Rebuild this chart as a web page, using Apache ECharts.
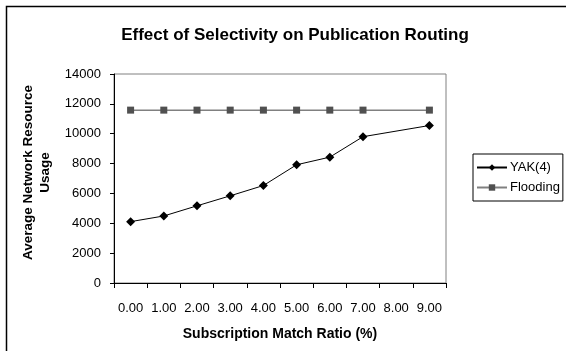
<!DOCTYPE html>
<html>
<head>
<meta charset="utf-8">
<script src="https://cdn.jsdelivr.net/npm/echarts@6/dist/echarts.min.js"></script>
<style>
  html, body { margin: 0; padding: 0; background: #fff; }
  #chart { width: 566px; height: 351px; }
</style>
</head>
<body>
<div id="chart"></div>
<script>
// match ratio categories (8.00 has no measurement)
const ratios = ['0.00', '1.00', '2.00', '3.00', '4.00', '5.00', '6.00', '7.00', '8.00', '9.00'];
const yakValues = [4110, 4490, 5170, 5840, 6530, 7920, 8430, 9800, null, 10550];
const floodingValues = [11580, 11580, 11580, 11580, 11580, 11580, 11580, 11580, null, 11580];

const myChart = echarts.init(document.getElementById('chart'));

const font = 'Liberation Sans, Arial, sans-serif';

const option = {
  animation: false,
  textStyle: { fontFamily: font },
  title: {
    text: 'Effect of Selectivity on Publication Routing',
    left: 290,
    top: 22,
    textAlign: 'center',
    textStyle: { fontSize: 17, fontWeight: 'bold', color: '#000', fontFamily: font }
  },
  // outer frame
  graphic: [{
    type: 'rect',
    shape: { x: 6.5, y: 6.5, width: 700, height: 500 },
    style: { fill: 'none', stroke: '#000', lineWidth: 1.5 },
    silent: true
  }],
  legend: {
    orient: 'vertical',
    left: 473,
    top: 154,
    padding: [7, 3, 7, 3],
    itemGap: 7,
    itemWidth: 30,
    itemHeight: 8,
    borderColor: '#000',
    borderWidth: 1,
    textStyle: { fontSize: 13, color: '#000', fontFamily: font, padding: [0, 0, 0, -2] },
    data: ['YAK(4)', 'Flooding']
  },
  grid: {
    left: 114,
    right: 120,
    top: 74,
    bottom: 68,
    show: true,
    borderColor: '#808080',
    borderWidth: 1
  },
  xAxis: {
    type: 'category',
    data: ratios,
    boundaryGap: true,
    name: 'Subscription Match Ratio (%)',
    nameLocation: 'middle',
    nameGap: 44,
    nameTextStyle: { fontSize: 14, fontWeight: 'bold', color: '#000', fontFamily: font },
    axisLine: { lineStyle: { color: '#000', width: 1 } },
    axisTick: { show: true, inside: false, length: 5, lineStyle: { color: '#000' } },
    axisLabel: { fontSize: 13, color: '#000', margin: 19, interval: 0 },
    splitLine: { show: false }
  },
  yAxis: {
    type: 'value',
    min: 0,
    max: 14000,
    interval: 2000,
    name: 'Average Network Resource\nUsage',
    nameLocation: 'middle',
    nameRotate: 90,
    nameGap: 58,
    nameTextStyle: { fontSize: 13.5, fontWeight: 'bold', color: '#000', fontFamily: font, lineHeight: 17, padding: [0, 0, 0, 12] },
    axisLine: { show: true, lineStyle: { color: '#000', width: 1 } },
    axisTick: { show: true, inside: false, length: 4, lineStyle: { color: '#000' } },
    axisLabel: { fontSize: 13, color: '#000', margin: 13, formatter: function (value) { return String(value); } },
    splitLine: { show: false }
  },
  series: [
    {
      name: 'YAK(4)',
      type: 'line',
      data: yakValues,
      connectNulls: true,
      symbol: 'diamond',
      symbolSize: 9,
      itemStyle: { color: '#000' },
      lineStyle: { color: '#000', width: 1 }
    },
    {
      name: 'Flooding',
      type: 'line',
      data: floodingValues,
      connectNulls: true,
      symbol: 'rect',
      symbolSize: 7,
      itemStyle: { color: '#505050' },
      lineStyle: { color: '#808080', width: 1.5 }
    }
  ]
};

myChart.setOption(option);
</script>
</body>
</html>
